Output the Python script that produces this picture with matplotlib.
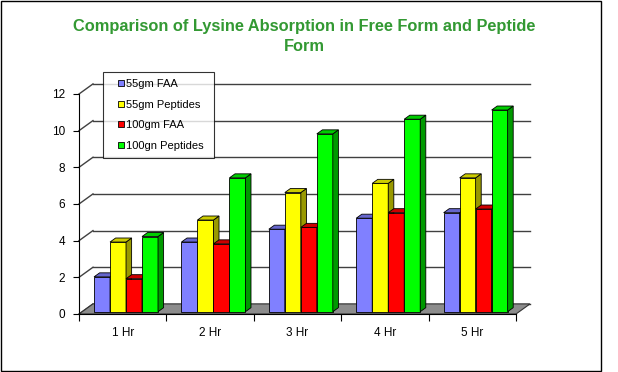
import matplotlib
matplotlib.use("Agg")
import matplotlib.pyplot as plt
from matplotlib.patches import Polygon, Rectangle
from matplotlib.lines import Line2D

plt.rcParams['font.family'] = ['Liberation Sans', 'DejaVu Sans']

# dados
categories = ['1 Hr', '2 Hr', '3 Hr', '4 Hr', '5 Hr']
series_names = ['55gm FAA', '55gm Peptides', '100gm FAA', '100gn Peptides']
faa_55 = [1.9, 3.8, 4.5, 5.1, 5.4]
pep_55 = [3.8, 5.0, 6.5, 7.0, 7.3]
faa_100 = [1.8, 3.7, 4.6, 5.4, 5.6]
pep_100 = [4.1, 7.3, 9.7, 10.5, 11.0]
series = [faa_55, pep_55, faa_100, pep_100]
y_ticks = [0, 2, 4, 6, 8, 10, 12]

front = ['#8080FF', '#FFFF00', '#FF0000', '#00FF00']
top = ['#6666CC', '#CCCC00', '#CC0000', '#00CC00']
side = ['#5050A0', '#999900', '#990000', '#009900']

# profundidade (em unidades de dados)
DX, DY = 0.16, 0.55          # chao / parede do fundo
BX, BY = 0.038, 0.125        # deslocamento da base das barras
DDX, DDY = 0.064, 0.22       # profundidade de cada barra
bar_w = 0.183

fig = plt.figure(figsize=(6.18, 3.72), dpi=100)
ax = fig.add_axes([79/618, 58/372, 437/618, 220/372])
ax.set_xlim(0, 5)
ax.set_ylim(0, 12)
ax.patch.set_alpha(0)

# parede do fundo e linhas de grade
for v in y_ticks:
    ax.plot([DX, 5 + DX], [v + DY, v + DY], color='#404040', lw=1, zorder=1, clip_on=False)
    ax.plot([0, DX], [v, v + DY], color='#404040', lw=1, zorder=1, clip_on=False)

# chao
ax.add_patch(Polygon([(0, 0), (5, 0), (5 + DX, DY), (DX, DY)], closed=True,
                     facecolor='#8c8c8c', edgecolor='#333333', lw=0.8, zorder=2, clip_on=False))

z = 3
for i in range(len(categories)):
    for s, vals in enumerate(series):
        x0 = i + 0.5 - 2 * bar_w + s * bar_w + BX
        v = vals[i]
        b = BY
        ax.bar(x0, v, width=bar_w, bottom=b, align='edge', color=front[s],
               edgecolor='black', lw=0.6, zorder=z, clip_on=False)
        ax.add_patch(Polygon([(x0 + bar_w, b), (x0 + bar_w + DDX, b + DDY),
                              (x0 + bar_w + DDX, b + v + DDY), (x0 + bar_w, b + v)],
                             closed=True, facecolor=side[s], edgecolor='black', lw=0.6,
                             zorder=z, clip_on=False))
        ax.add_patch(Polygon([(x0, b + v), (x0 + bar_w, b + v),
                              (x0 + bar_w + DDX, b + v + DDY), (x0 + DDX, b + v + DDY)],
                             closed=True, facecolor=top[s], edgecolor='black', lw=0.6,
                             zorder=z, clip_on=False))
        z += 1

# eixos
for sp in ['top', 'right']:
    ax.spines[sp].set_visible(False)
ax.spines['left'].set_zorder(50)
ax.spines['bottom'].set_zorder(50)
ax.set_yticks(y_ticks)
ax.set_yticklabels([str(t) for t in y_ticks], fontsize=8.5)
ax.set_xticks(range(6))
ax.set_xticklabels([''] * 6)
ax.set_xticks([i + 0.5 for i in range(5)], minor=True)
ax.set_xticklabels(categories, minor=True, fontsize=8.5)
ax.tick_params(axis='x', which='major', length=5, direction='out')
ax.tick_params(axis='x', which='minor', length=0, pad=9)
ax.tick_params(axis='y', length=4, direction='out', pad=6)

# legenda
handles = [Line2D([], [], marker='s', linestyle='none', markersize=5,
                  markerfacecolor=front[s], markeredgecolor='black', markeredgewidth=0.6)
           for s in range(4)]
leg = fig.legend(handles, series_names, loc='upper left',
                 bbox_to_anchor=(103/618, 1 - 72/372, 111/618, 0), mode='expand',
                 fontsize=8, frameon=True, fancybox=False, edgecolor='black',
                 handlelength=2.0, handletextpad=-0.6,
                 labelspacing=0.95, borderpad=0.65, borderaxespad=0)
leg.get_frame().set_linewidth(0.8)
leg.set_zorder(100)

# titulo
fig.text(304/618, 1 - 31/372, 'Comparison of Lysine Absorption in Free Form and Peptide',
         ha='center', va='baseline', fontsize=11.8, fontweight='bold', color='#339933')
fig.text(304/618, 1 - 51/372, 'Form', ha='center', va='baseline',
         fontsize=11.8, fontweight='bold', color='#339933')

# borda da figura
fig.patches.append(Rectangle((0.5/618, 1/372), 600.5/618, 370/372, transform=fig.transFigure,
                             fill=False, edgecolor='black', lw=1))

fig.savefig('out.png', dpi=100)
